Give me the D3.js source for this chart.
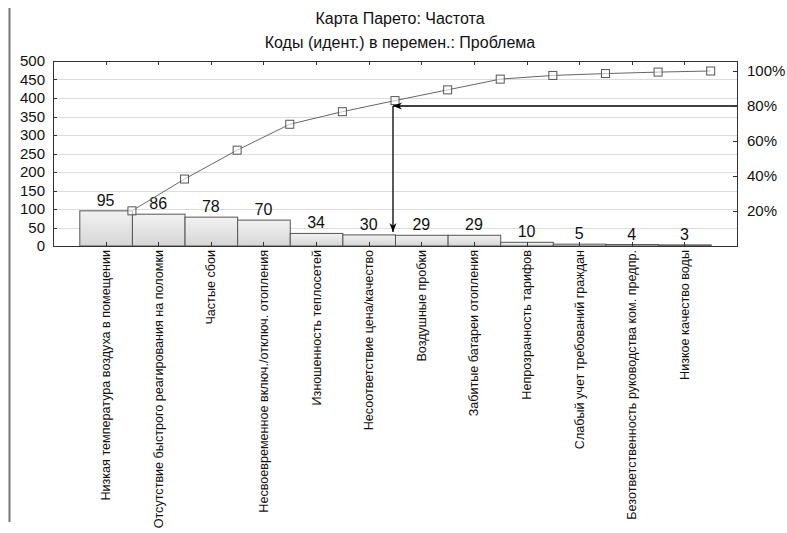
<!DOCTYPE html>
<html>
<head>
<meta charset="utf-8">
<script src="https://cdn.jsdelivr.net/npm/d3@7"></script>
<style>
body{margin:0;background:#fff;}
text{font-family:Arial,"Liberation Sans",sans-serif;fill:#111;}
</style>
</head>
<body>
<div id="canvas"></div>
<script>
// categories and counts
var problems = ['Низкая температура воздуха в помещении','Отсутствие быстрого реагирования на поломки',
    'Частые сбои','Несвоевременное включ./отключ. отопления','Изношенность теплосетей',
    'Несоответствие цена/качество','Воздушные пробки','Забитые батареи отопления',
    'Непрозрачность тарифов','Слабый учет требований граждан',
    'Безответственность руководства ком. предпр.','Низкое качество воды'];
var counts = [95,86,78,70,34,30,29,29,10,5,4,3];
var leftTicks = [0,50,100,150,200,250,300,350,400,450,500];
var pctTicks = [20,40,60,80,100];
var cutoff = 80;

var W = 787, H = 533;
var m = {t:61,r:50,b:287,l:53},
    w = W - m.l - m.r,
    h = H - m.t - m.b;

var svg = d3.select('#canvas').append('svg')
    .attr('width',W).attr('height',H);

var defs = svg.append('defs');
var grad = defs.append('linearGradient').attr('id','barg')
    .attr('x1',0).attr('y1',0).attr('x2',0).attr('y2',1);
grad.append('stop').attr('offset','0%').attr('stop-color','#f2f2f2');
grad.append('stop').attr('offset','100%').attr('stop-color','#d6d6d6');
var mk = defs.append('marker').attr('id','arr').attr('viewBox','0 0 10 10')
    .attr('refX',10).attr('refY',5).attr('markerWidth',9).attr('markerHeight',9)
    .attr('orient','auto-start-reverse').attr('markerUnits','userSpaceOnUse');
mk.append('path').attr('d','M0,1 L10,5 L0,9 L3,5 Z').attr('fill','#000');

// window frame line on the left
svg.append('line').attr('x1',9.5).attr('x2',9.5).attr('y1',8).attr('y2',522)
    .attr('stroke','#777').attr('stroke-width',2);

// titles
svg.append('text').attr('x',400).attr('y',24).attr('text-anchor','middle')
    .style('font-size','16px').text('Карта Парето: Частота');
svg.append('text').attr('x',400).attr('y',48).attr('text-anchor','middle')
    .style('font-size','16px').text('Коды (идент.) в перемен.: Проблема');

var plot = svg.append('g').attr('transform','translate('+m.l+','+m.t+')');

var total = d3.sum(counts);
var cum = [];
counts.reduce(function(a,v,i){ cum[i] = a + v; return a + v; },0);

var x = d3.scaleBand().domain(problems).range([0,w]).paddingInner(0).paddingOuter(0.5);
var y = d3.scaleLinear().domain([0,500]).range([h,0]);
var yp = d3.scaleLinear().domain([0,100]).range([h, y(total)]);

// grid
plot.selectAll('.grid').data(leftTicks.slice(1,-1)).enter().append('line')
    .attr('x1',0).attr('x2',w)
    .attr('y1',function(d){return Math.round(y(d))+0.5;})
    .attr('y2',function(d){return Math.round(y(d))+0.5;})
    .attr('stroke','#dcdcdc');

// bars
plot.selectAll('.bar').data(counts).enter().append('rect')
    .attr('x',function(d,i){return x(problems[i])+0.5;})
    .attr('y',function(d){return y(d);})
    .attr('width',x.bandwidth())
    .attr('height',function(d){return h - y(d);})
    .attr('fill','url(#barg)').attr('stroke','#555');

plot.selectAll('.blab').data(counts).enter().append('text')
    .attr('x',function(d,i){return x(problems[i]) + x.bandwidth()/2;})
    .attr('y',function(d){return y(d) - 5;})
    .attr('text-anchor','middle').style('font-size','16px')
    .text(function(d){return d;});

// cumulative line at right edges of bars
var line = d3.line()
    .x(function(d,i){return x(problems[i]) + x.bandwidth();})
    .y(function(d){return y(d);});
plot.append('path').datum(cum).attr('d',line)
    .attr('fill','none').attr('stroke','#666').attr('stroke-width',1);
plot.selectAll('.pt').data(cum).enter().append('rect')
    .attr('x',function(d,i){return x(problems[i]) + x.bandwidth() - 4;})
    .attr('y',function(d){return y(d) - 4;})
    .attr('width',8).attr('height',8)
    .attr('fill','#fff').attr('fill-opacity',0.6).attr('stroke','#555');

// 80% cut-off arrows
var idx = cum.findIndex(function(c){return c/total*100 >= cutoff;});
var ax = Math.round(x(problems[idx]) + x.bandwidth()) - 2;
plot.append('line').attr('x1',w).attr('x2',ax).attr('y1',yp(cutoff)).attr('y2',yp(cutoff))
    .attr('stroke','#000').attr('stroke-width',1.3).attr('marker-end','url(#arr)');
plot.append('line').attr('x1',ax).attr('x2',ax).attr('y1',yp(cutoff)).attr('y2',h-14)
    .attr('stroke','#000').attr('stroke-width',1.3).attr('marker-end','url(#arr)');

// frame
plot.append('rect').attr('x',0.5).attr('y',0.5).attr('width',w).attr('height',h)
    .attr('fill','none').attr('stroke','#333');

// category ticks top and bottom
problems.forEach(function(p){
    var cx = Math.round(x(p) + x.bandwidth()/2) + 0.5;
    plot.append('line').attr('x1',cx).attr('x2',cx).attr('y1',0).attr('y2',4).attr('stroke','#333');
    plot.append('line').attr('x1',cx).attr('x2',cx).attr('y1',h-4).attr('y2',h).attr('stroke','#333');
});

// left axis
plot.selectAll('.ytk').data(leftTicks).enter().append('line')
    .attr('x1',0).attr('x2',4)
    .attr('y1',function(d){return Math.round(y(d))+0.5;})
    .attr('y2',function(d){return Math.round(y(d))+0.5;})
    .attr('stroke','#333');
plot.selectAll('.yl').data(leftTicks).enter().append('text')
    .attr('x',-8).attr('y',function(d){return y(d);}).attr('dy','0.35em')
    .attr('text-anchor','end').style('font-size','15px')
    .text(function(d){return d;});

// right axis
plot.selectAll('.yr').data(pctTicks).enter().append('line')
    .attr('x1',w-4).attr('x2',w)
    .attr('y1',function(d){return Math.round(yp(d))+0.5;})
    .attr('y2',function(d){return Math.round(yp(d))+0.5;})
    .attr('stroke','#333');
plot.selectAll('.yrl').data(pctTicks).enter().append('text')
    .attr('x',w+10).attr('y',function(d){return yp(d);}).attr('dy','0.35em')
    .style('font-size','15px')
    .text(function(d){return d+'%';});

// category labels
plot.selectAll('.xl').data(problems).enter().append('text')
    .attr('transform',function(d){
        return 'translate('+(x(d)+x.bandwidth()/2+4.5)+','+(h+4)+') rotate(-90)';
    })
    .attr('text-anchor','end').style('font-size','12.6px')
    .text(function(d){return d;});
</script>
</body>
</html>
